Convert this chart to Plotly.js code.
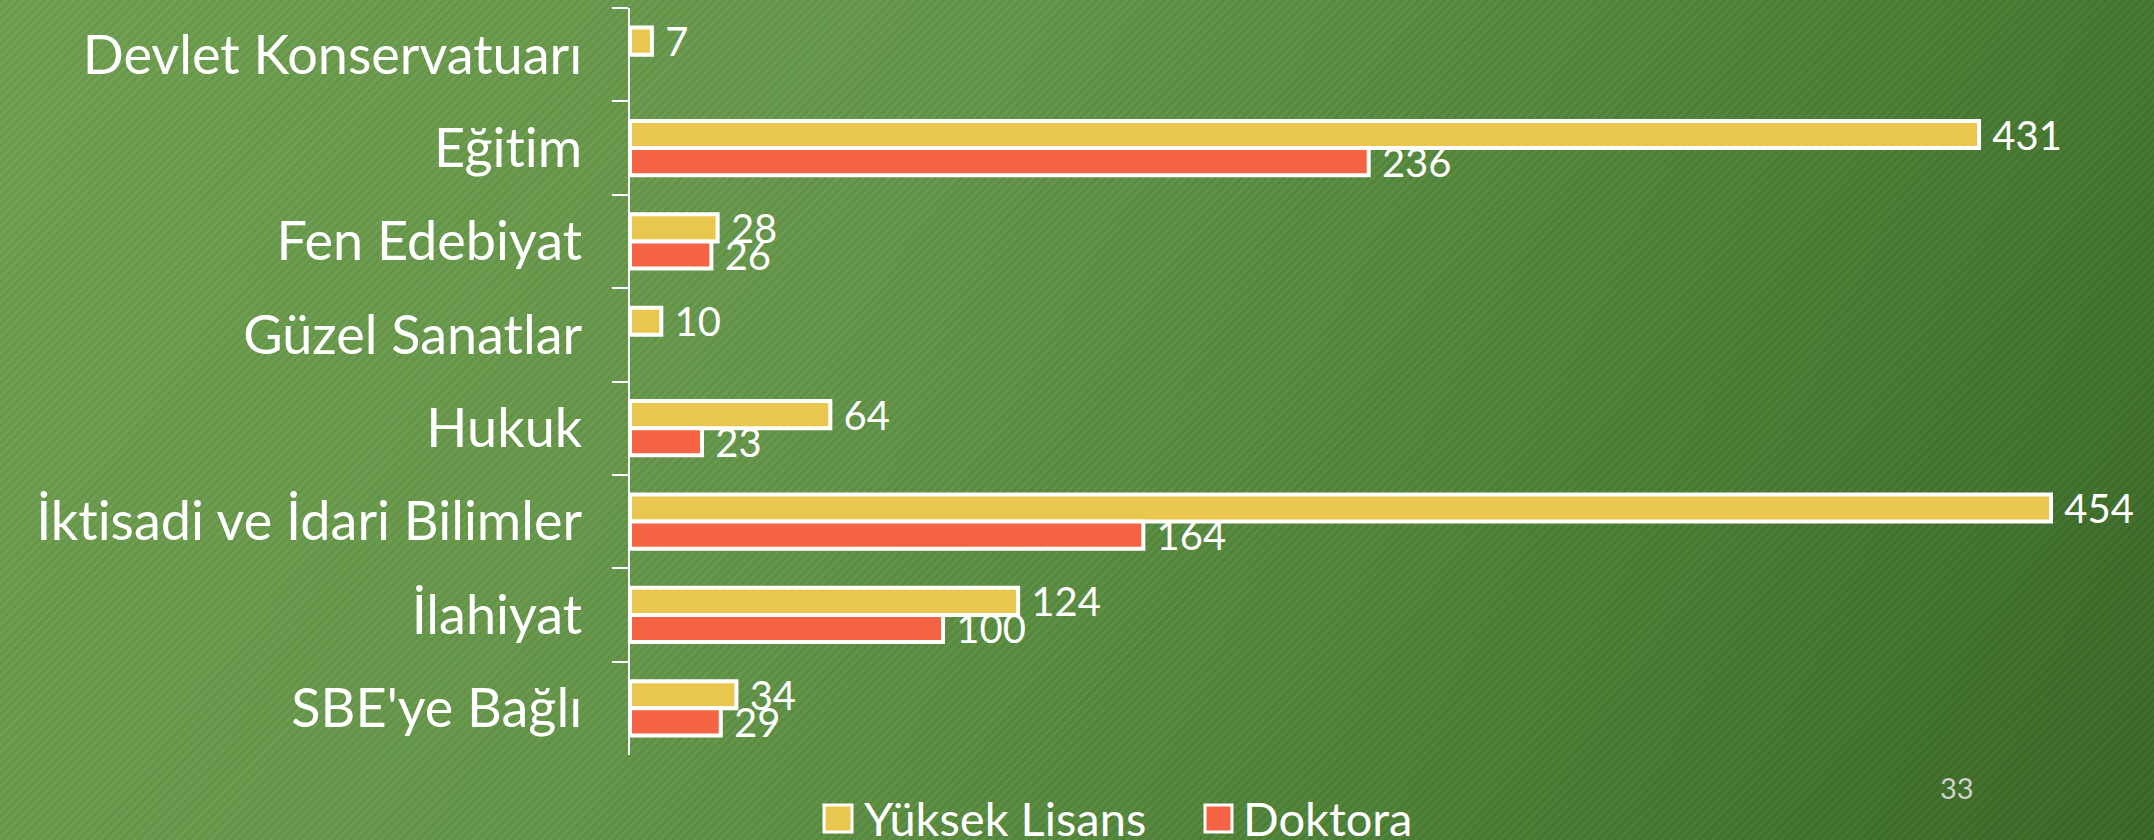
<!DOCTYPE html>
<html>
<head>
<meta charset="utf-8">
<script src="https://cdn.plot.ly/plotly-3.0.1.min.js"></script>
<style>
  html, body { margin: 0; padding: 0; width: 2154px; height: 840px; overflow: hidden; }
  body {
    background:
      repeating-linear-gradient(135deg, rgba(0,0,0,0.045) 0px, rgba(0,0,0,0.045) 3px, rgba(255,255,255,0.025) 3px, rgba(255,255,255,0.025) 6px),
      linear-gradient(120deg, #70a050 0%, #65974a 38%, #4c8035 72%, #3b6827 100%);
  }
  #chart { width: 2154px; height: 840px; }
  svg text { font-variant-ligatures: none !important; font-feature-settings: "liga" 0, "clig" 0, "dlig" 0 !important; }
</style>
</head>
<body>
<div id="chart"></div>
<script>
const categories = ["Devlet Konservatuarı", "Eğitim", "Fen Edebiyat", "Güzel Sanatlar", "Hukuk", "İktisadi ve İdari Bilimler", "İlahiyat", "SBE'ye Bağlı"];
const seriesNames = ["Yüksek Lisans", "Doktora"];
const yuksekLisans = [7, 431, 28, 10, 64, 454, 124, 34];
const doktora = [null, 236, 26, null, 23, 164, 100, 29];
const seriesColors = ["#E9C74E", "#F46444"];
const pageNumber = "33";

const W = 2154, H = 840;
const M = { l: 630, r: 0, t: 8, b: 85 };
const plotW = W - M.l - M.r, plotH = H - M.t - M.b;
const px2x = p => (p - M.l) / plotW;
const px2y = p => (H - M.b - p) / plotH;

const FONT = "Lato, 'Open Sans', sans-serif";

function barTrace(name, values, color) {
  return {
    type: "bar",
    orientation: "h",
    name: name,
    y: categories,
    x: values,
    marker: { color: color, line: { color: "#ffffff", width: 4 } },
    text: values.map(v => v == null ? "" : String(v)),
    texttemplate: "\u00a0%{x}",
    textposition: "outside",
    constraintext: "none",
    cliponaxis: false,
    textfont: { family: FONT, size: 40, color: "#ffffff" },
    hoverinfo: "skip"
  };
}

const data = [
  barTrace(seriesNames[0], yuksekLisans, seriesColors[0]),
  barTrace(seriesNames[1], doktora, seriesColors[1])
];

// custom legend (large squares like the original)
const legendItems = [
  { sq: [824, 852], tx: 862 },
  { sq: [1205, 1232], tx: 1241 }
];
const shapes = [], annotations = [];
legendItems.forEach((it, i) => {
  shapes.push({
    type: "rect", xref: "paper", yref: "paper",
    x0: px2x(it.sq[0]), x1: px2x(it.sq[1]),
    y0: px2y(832), y1: px2y(805),
    fillcolor: seriesColors[i], line: { color: "#ffffff", width: 3 }
  });
  annotations.push({
    xref: "paper", yref: "paper", x: px2x(it.tx), y: px2y(818),
    xanchor: "left", yanchor: "middle", showarrow: false,
    text: seriesNames[i], font: { family: FONT, size: 47, color: "#ffffff" }
  });
});
annotations.push({
  xref: "paper", yref: "paper", x: px2x(1957), y: px2y(787),
  xanchor: "center", yanchor: "middle", showarrow: false,
  text: pageNumber, font: { family: FONT, size: 29, color: "#cfd3cc" }
});

const layout = {
  width: W, height: H,
  margin: M,
  paper_bgcolor: "rgba(0,0,0,0)",
  plot_bgcolor: "rgba(0,0,0,0)",
  barmode: "group",
  bargap: 0.42,
  bargroupgap: 0,
  showlegend: false,
  xaxis: { visible: false, range: [0, 486.9], fixedrange: true },
  yaxis: {
    type: "category",
    autorange: "reversed",
    tickson: "boundaries",
    ticks: "outside",
    ticklen: 16,
    tickwidth: 2,
    tickcolor: "#ffffff",
    showline: true,
    linecolor: "#ffffff",
    linewidth: 2,
    showgrid: false,
    zeroline: false,
    ticklabelstandoff: 35,
    tickfont: { family: FONT, size: 54, color: "#ffffff" }
  },
  shapes: shapes,
  annotations: annotations
};

Plotly.newPlot("chart", data, layout, { staticPlot: true, displayModeBar: false });
</script>
</body>
</html>
